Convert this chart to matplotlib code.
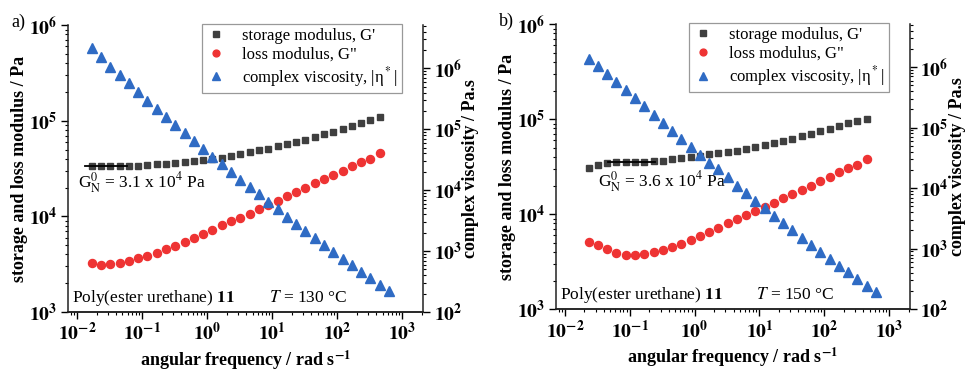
import numpy as np
import matplotlib
matplotlib.use('Agg')
import matplotlib.pyplot as plt
from matplotlib.ticker import LogLocator, FuncFormatter, NullFormatter

plt.rcParams['font.family'] = ['Liberation Serif', 'DejaVu Serif']
plt.rcParams['mathtext.fontset'] = 'stix'

# angular frequency / rad s-1
w_a = [0.0168, 0.0233, 0.0324, 0.0450, 0.0625, 0.0868, 0.121, 0.168, 0.233, 0.324,
       0.450, 0.625, 0.868, 1.21, 1.68, 2.33, 3.24, 4.50, 6.25, 8.68, 12.1, 16.8,
       23.3, 32.4, 45.0, 62.5, 86.8, 121, 168, 233, 324, 450, 628]
w_b = w_a[1:]

# panel a, T = 130 C
Gp_a = [33700, 33700, 33700, 33700, 33700, 34000, 34500, 35100, 35600, 36200, 36800,
        37700, 38600, 39900, 41200, 43000, 44700, 46600, 48900, 51300, 54200, 56900,
        60300, 63700, 67900, 71900, 76700, 82400, 88700, 95300, 103000, 110000]
Gpp_a = [3260, 3130, 3210, 3260, 3390, 3670, 3890, 4140, 4530, 4910, 5400, 5900,
         6610, 7280, 8080, 8900, 9710, 10700, 12000, 13200, 14600, 16200, 18000,
         19900, 22200, 24700, 27200, 30200, 33500, 37200, 39600, 45800]
eta_a = [2.13e6, 1.52e6, 1.06e6, 7.76e5, 5.66e5, 4.08e5, 2.94e5, 2.17e5, 1.60e5,
         1.17e5, 8.54e4, 6.31e4, 4.72e4, 3.53e4, 2.64e4, 1.98e4, 1.46e4, 1.11e4,
         8490, 6430, 4870, 3650, 2830, 2150, 1650, 1260, 968, 753, 585, 455, 357, 281, 219]

# panel b, T = 150 C
Gp_b = [31000, 33000, 34700, 35500, 35500, 35800, 35800, 36100, 36700, 37900, 38800,
        39800, 41400, 42800, 43900, 45000, 46600, 48500, 50800, 53200, 56000, 58900,
        62200, 65900, 70000, 74300, 79300, 84500, 90200, 95100, 100500]
Gpp_b = [5150, 4720, 4310, 3940, 3760, 3730, 3800, 4040, 4240, 4530, 4910, 5360,
         5910, 6560, 7230, 8040, 8930, 9840, 10800, 12000, 13200, 14700, 16200,
         18000, 20000, 22200, 24900, 27700, 30500, 33000, 37900]
eta_b = [1.38e6, 1.05e6, 7.78e5, 5.74e5, 4.24e5, 3.13e5, 2.27e5, 1.64e5, 1.19e5,
         8.81e4, 6.43e4, 4.74e4, 3.50e4, 2.65e4, 2.06e4, 1.52e4, 1.09e4, 8180, 6180,
         4630, 3490, 2650, 2010, 1520, 1150, 881, 676, 524, 408, 313, 245, 195]

# plateau lines (omega range, G value)
plateau_a = ([0.0133, 0.059], 33700)
plateau_b = ([0.0457, 0.243], 35100)

c_sq = '#3f3f3f'
c_ci = '#ee3333'
c_tr = '#2f6bc4'


def sci(v, pos):
    e = int(round(np.log10(v)))
    return r'$\mathbf{10^{%d}}$' % e


def style_axis(a):
    a.set_xscale('log')
    a.set_yscale('log')
    a.xaxis.set_major_locator(LogLocator(base=10, numticks=20))
    a.xaxis.set_minor_locator(LogLocator(base=10, subs=np.arange(2, 10), numticks=20))
    a.yaxis.set_major_locator(LogLocator(base=10, numticks=20))
    a.yaxis.set_minor_locator(LogLocator(base=10, subs=np.arange(2, 10), numticks=20))
    a.xaxis.set_major_formatter(FuncFormatter(sci))
    a.yaxis.set_major_formatter(FuncFormatter(sci))
    a.xaxis.set_minor_formatter(NullFormatter())
    a.yaxis.set_minor_formatter(NullFormatter())
    a.tick_params(which='major', direction='out', length=5, width=1, labelsize=14, pad=2.5)
    a.tick_params(which='minor', direction='out', length=2.5, width=0.8)
    for s in a.spines.values():
        s.set_linewidth(1.1)
        s.set_color('#222222')
    a.spines['top'].set_visible(False)


def panel(rect, tag, w, Gp, Gpp, eta, plateau, gn_text, gn_pos, temp):
    ax = fig.add_axes(rect)
    style_axis(ax)
    ax.spines['right'].set_visible(False)
    h1, = ax.plot(w[:len(Gp)], Gp, 's', ms=5, color=c_sq, mec=c_sq,
                  label="storage modulus, G'")
    h2, = ax.plot(w[:len(Gpp)], Gpp, 'o', ms=5.8, color=c_ci, mec=c_ci,
                  label='loss modulus, G"')
    ax.plot(plateau[0], [plateau[1], plateau[1]], '-', color='black', lw=1.3)
    ax.set_xlim(0.00727, 2100)
    ax.set_ylim(1e3, 1e6)
    ax.set_xlabel(r'angular frequency / rad s$^{\mathbf{-1}}$', fontsize=13,
                  fontweight='bold', labelpad=2.5)
    ax.set_ylabel('storage and loss modulus / Pa', fontsize=13, fontweight='bold',
                  labelpad=1)

    ax2 = ax.twinx()
    style_axis(ax2)
    ax2.spines['left'].set_visible(False)
    h3, = ax2.plot(w, eta, '^', ms=6.5, color=c_tr, mec=c_tr,
                   label=r'complex viscosity, |η$^*$|')
    ax2.set_ylim(100, 5.1e6)
    ax2.set_ylabel('complex viscosity / Pa.s', fontsize=13, fontweight='bold',
                   labelpad=0)

    leg = ax2.legend(handles=[h1, h2, h3], loc='upper right', fontsize=12,
                     frameon=True, fancybox=False, framealpha=1, handlelength=1.2,
                     handletextpad=1.0, borderpad=0.25, labelspacing=0.15,
                     markerscale=0.85, bbox_to_anchor=(0.94, 1.005), borderaxespad=0)
    leg.get_frame().set_edgecolor('#999999')
    leg.get_frame().set_linewidth(0.9)

    ax.text(gn_pos[0], gn_pos[1], gn_text, transform=ax.transAxes, fontsize=12.5)
    ax.text(0.012, 0.035, r'Poly(ester urethane) $\mathbf{11}$', transform=ax.transAxes,
            fontsize=12.5)
    ax.text(0.565, 0.035, r'$T$ = %s °C' % temp, transform=ax.transAxes, fontsize=12.5)
    ax.text(-0.16, 0.995, tag, transform=ax.transAxes, fontsize=13)
    return ax


fig = plt.figure(figsize=(9.65, 3.73), dpi=100)

panel([0.0705, 0.1635, 0.368, 0.769], 'a)', w_a, Gp_a, Gpp_a, eta_a, plateau_a,
      r'G$_\mathrm{N}^0$ = 3.1 x 10$^4$ Pa', (0.027, 0.435), '130')
panel([0.576, 0.171, 0.367, 0.764], 'b)', w_b, Gp_b, Gpp_b, eta_b, plateau_b,
      r'G$_\mathrm{N}^0$ = 3.6 x 10$^4$ Pa', (0.118, 0.43), '150')

fig.savefig('out.png', dpi=100)
